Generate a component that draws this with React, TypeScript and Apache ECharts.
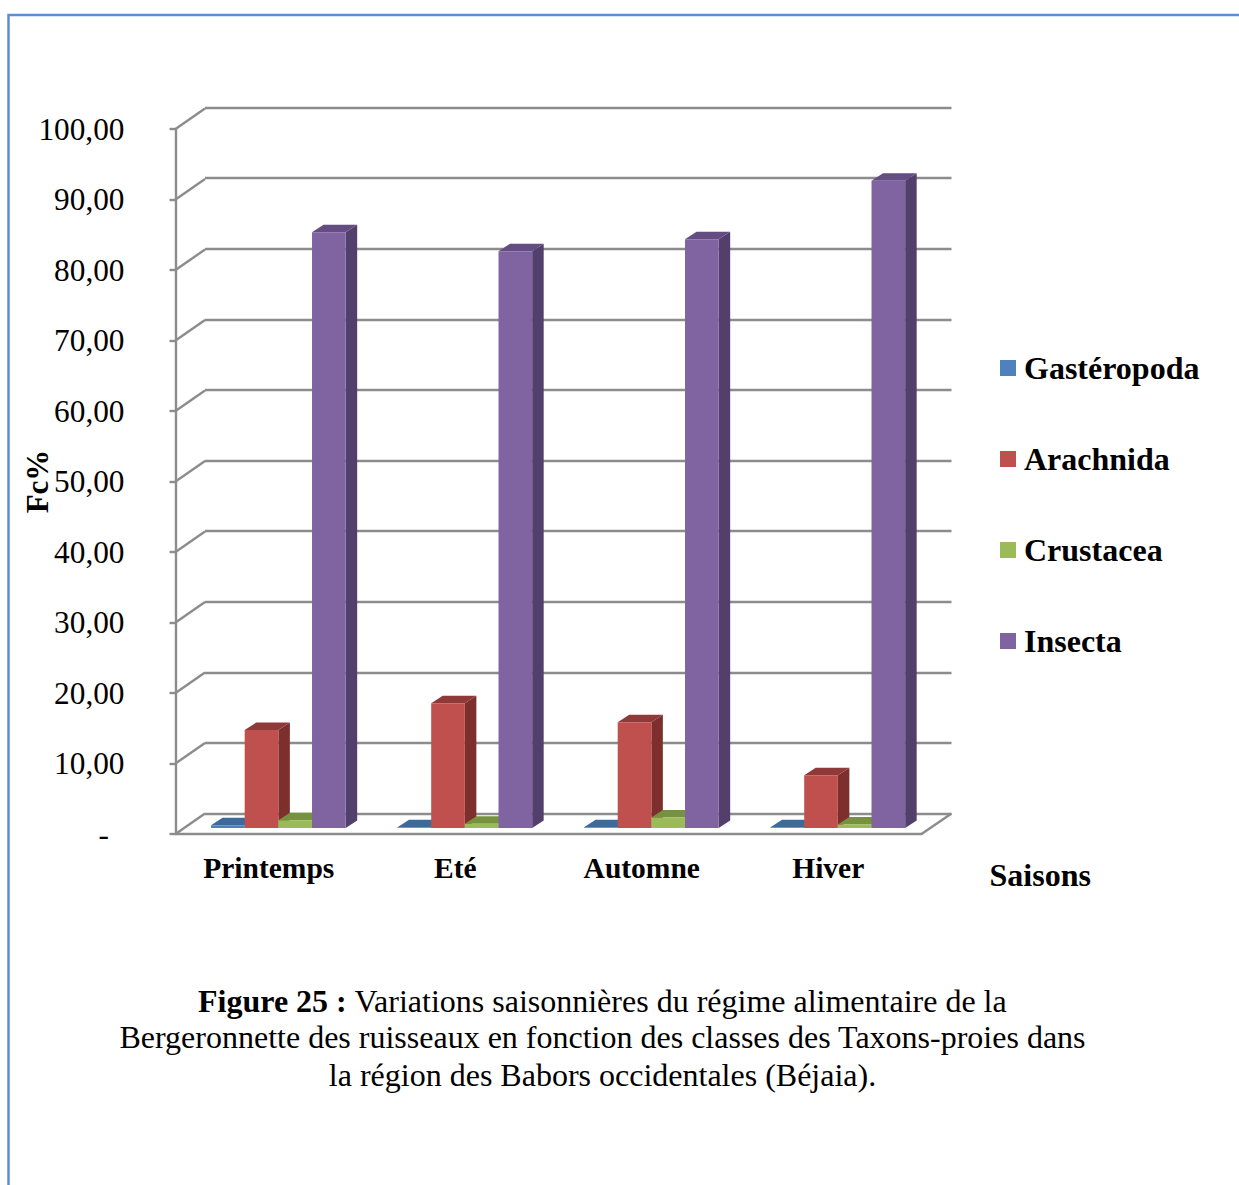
import React, { useEffect, useRef } from "react";
import * as echarts from "echarts";

const categories = ["Printemps", "Eté", "Automne", "Hiver"];
const gasteropoda = [0.4, 0.1, 0.1, 0.1];
const arachnida = [13.9, 17.7, 15.0, 7.5];
const crustacea = [1.1, 0.6, 1.5, 0.5];
const insecta = [84.5, 81.8, 83.5, 91.8];
const ticks = [0, 10, 20, 30, 40, 50, 60, 70, 80, 90, 100];
const FONT = "Liberation Serif";
const GREY = "#8c8c8c";

const seriesDefs = [
  { name: "Gastéropoda", values: gasteropoda, front: "#4F81BD", top: "#3E6A9A", side: "#2F5380" },
  { name: "Arachnida", values: arachnida, front: "#C0504D", top: "#8F3A38", side: "#7D2F2D" },
  { name: "Crustacea", values: crustacea, front: "#9BBB59", top: "#76923F", side: "#5F7A30" },
  { name: "Insecta", values: insecta, front: "#8064A2", top: "#644D82", side: "#533F6C" },
];

const DX = 11.5;
const DY = -7.5;
const BASE_SHIFT = -6;

function barRenderer(index: number, def: (typeof seriesDefs)[number]) {
  return (_p: any, api: any) => {
    const cat = api.value(0);
    const val = api.value(1);
    const band = api.size([1, 0])[0];
    const w = band * 0.1805;
    const center = api.coord([cat, 0])[0] + band * 0.0515;
    const x0 = center + (index - 2) * w;
    const x1 = x0 + w;
    const yb = api.coord([cat, 0])[1] + BASE_SHIFT;
    const yt = api.coord([cat, val])[1] + BASE_SHIFT;
    return {
      type: "group",
      children: [
        { type: "polygon", shape: { points: [[x1, yt], [x1 + DX, yt + DY], [x1 + DX, yb + DY], [x1, yb]] }, style: { fill: def.side } },
        { type: "polygon", shape: { points: [[x0, yt], [x0 + DX, yt + DY], [x1 + DX, yt + DY], [x1, yt]] }, style: { fill: def.top } },
        { type: "rect", shape: { x: x0, y: yt, width: w, height: yb - yt }, style: { fill: def.front } },
      ],
    };
  };
}

const wallRenderer = (_p: any, api: any) => {
  const v = api.value(0);
  const [x, y] = api.coord([0, v]);
  const left = x - api.size([1, 0])[0] / 2;
  return {
    type: "line",
    shape: { x1: left, y1: y, x2: left + 29.5, y2: y - 20.5 },
    style: { stroke: GREY, lineWidth: 2.4 },
  };
};

const floorEdgeRenderer = (_p: any, api: any) => {
  const [x, y] = api.coord([3, 0]);
  const right = x + api.size([1, 0])[0] / 2;
  return {
    type: "line",
    shape: { x1: right, y1: y, x2: right + 30, y2: y - 20.5 },
    style: { stroke: GREY, lineWidth: 2.4 },
  };
};

export default function App() {
  const ref = useRef<HTMLDivElement>(null);
  useEffect(() => {
    const chart = echarts.init(ref.current!, undefined, { renderer: "svg" });
    chart.setOption({
      animation: false,
      backgroundColor: "#ffffff",
      textStyle: { fontFamily: FONT },
      legend: {
        show: true,
        orient: "vertical",
        left: 995,
        top: 347,
        itemWidth: 16,
        itemHeight: 16,
        itemGap: 59,
        icon: "rect",
        data: seriesDefs.map((d) => d.name),
        selectedMode: false,
        textStyle: { fontFamily: FONT, fontSize: 32, fontWeight: "bold", color: "#000", padding: [0, 0, 0, 3] },
      },
      grid: [
        { left: 175.5, top: 129, width: 746, height: 705, containLabel: false, outerBoundsMode: "none" },
        { left: 205, top: 107.6, width: 746.5, height: 706, containLabel: false, outerBoundsMode: "none" },
      ],
      xAxis: [
        {
          type: "category",
          gridIndex: 0,
          data: categories,
          axisLine: { show: true, lineStyle: { color: GREY, width: 2.4 } },
          axisTick: { show: false },
          axisLabel: { fontFamily: FONT, fontSize: 29.5, fontWeight: "bold", color: "#000", margin: 19 },
        },
        {
          type: "category",
          gridIndex: 1,
          data: categories,
          axisLine: { show: false },
          axisTick: { show: false },
          axisLabel: { show: false },
        },
      ],
      yAxis: [
        {
          type: "value",
          gridIndex: 0,
          min: 0,
          max: 100,
          interval: 10,
          name: "Fc%",
          nameLocation: "middle",
          nameGap: 123,
          nameRotate: 90,
          nameMoveOverlap: false,
          nameTextStyle: { fontFamily: FONT, fontSize: 31, fontWeight: "bold", color: "#000" },
          axisLine: { show: true, lineStyle: { color: GREY, width: 2.4 } },
          axisTick: { show: true, length: 6, lineStyle: { color: GREY, width: 2.4 } },
          splitLine: { show: false },
          axisLabel: {
            fontFamily: FONT,
            fontSize: 31.3,
            color: "#000",
            margin: 51,
            align: "right",
            formatter: (v: number) => (v === 0 ? "-\u00a0\u00a0" : v.toFixed(2).replace(".", ",")),
          },
        },
        {
          type: "value",
          gridIndex: 1,
          min: 0,
          max: 100,
          interval: 10,
          axisLine: { show: false },
          axisTick: { show: false },
          axisLabel: { show: false },
          splitLine: { show: true, lineStyle: { color: GREY, width: 2.4 } },
        },
      ],
      series: [
        {
          type: "custom",
          name: "parois",
          xAxisIndex: 0,
          yAxisIndex: 0,
          data: ticks.map((t) => [t]),
          encode: { y: 0 },
          renderItem: wallRenderer,
          silent: true,
          z: 1,
        },
        {
          type: "custom",
          name: "sol",
          xAxisIndex: 0,
          yAxisIndex: 0,
          data: [[0]],
          encode: { y: 0 },
          renderItem: floorEdgeRenderer,
          silent: true,
          z: 1,
        },
        ...seriesDefs.map((d, i) => ({
          type: "custom",
          name: d.name,
          xAxisIndex: 0,
          yAxisIndex: 0,
          itemStyle: { color: d.front },
          data: d.values.map((v, c) => [c, v]),
          encode: { x: 0, y: 1 },
          renderItem: barRenderer(i, d),
          silent: true,
          z: 3 + i,
        })),
      ],
      graphic: [
        {
          type: "polyline",
          shape: { points: [[8.5, 1185], [8.5, 15], [1239, 15]] },
          style: { stroke: "#5B8DD6", lineWidth: 2.5, fill: "none" },
          silent: true,
        },
        {
          type: "text",
          x: 989.5,
          y: 874.5,
          style: {
            text: "Saisons",
            fontFamily: FONT,
            fontSize: 32,
            fontWeight: "bold",
            fill: "#000",
            align: "left",
            verticalAlign: "middle",
          },
        },
        {
          type: "text",
          x: 602.5,
          y: 1001,
          style: {
            text: "{b|Figure 25 :} Variations saisonnières du régime alimentaire de la",
            fontFamily: FONT,
            fontSize: 32,
            fill: "#000",
            align: "center",
            verticalAlign: "middle",
            rich: { b: { fontFamily: FONT, fontSize: 32, fontWeight: "bold", fill: "#000" } },
          },
        },
        {
          type: "text",
          x: 602.5,
          y: 1037,
          style: {
            text: "Bergeronnette des ruisseaux en fonction des classes des Taxons-proies dans",
            fontFamily: FONT,
            fontSize: 32,
            fill: "#000",
            align: "center",
            verticalAlign: "middle",
          },
        },
        {
          type: "text",
          x: 602.5,
          y: 1075,
          style: {
            text: "la région des Babors occidentales (Béjaia).",
            fontFamily: FONT,
            fontSize: 32,
            fill: "#000",
            align: "center",
            verticalAlign: "middle",
          },
        },
      ],
    });
    return () => chart.dispose();
  }, []);
  return <div ref={ref} style={{ position: "absolute", left: 0, top: 0, width: 1239, height: 1185 }} />;
}
